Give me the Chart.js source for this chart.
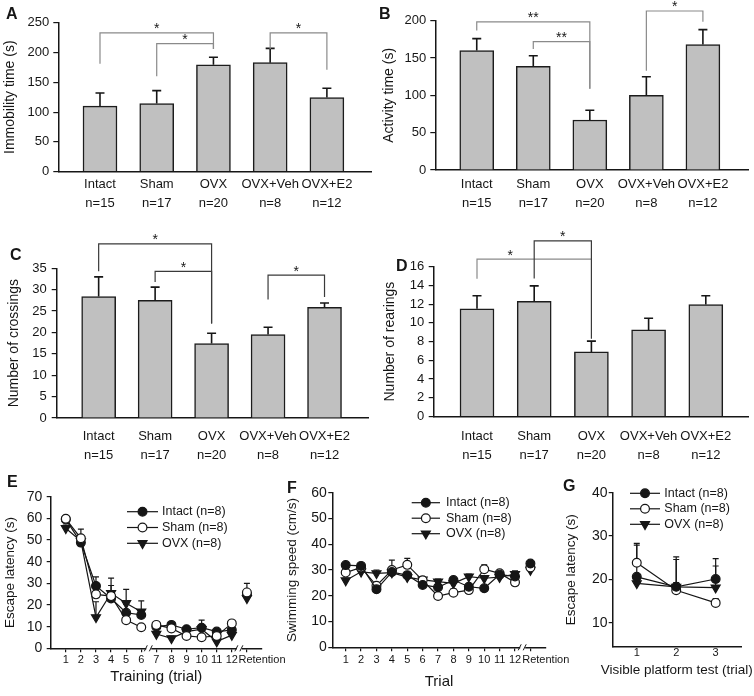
<!DOCTYPE html>
<html>
<head>
<meta charset="utf-8">
<script src="https://cdn.jsdelivr.net/npm/chart.js@4.4.1/dist/chart.umd.min.js"></script>
<style>
html,body{margin:0;padding:0;background:#fff;}
#wrap{position:relative;width:754px;height:696px;overflow:hidden;background:#fff;}
canvas{position:absolute;}
</style>
</head>
<body>
<div id="wrap">
<canvas id="cA"></canvas><canvas id="cB"></canvas><canvas id="cC"></canvas><canvas id="cD"></canvas>
<canvas id="cE"></canvas><canvas id="cF"></canvas><canvas id="cG"></canvas>
</div>
<script>
// ================= DATA =================
const groups = ['Intact', 'Sham', 'OVX', 'OVX+Veh', 'OVX+E2'];
const groupN = ['n=15', 'n=17', 'n=20', 'n=8', 'n=12'];

const immobilityTime = [110, 114.5, 179.5, 183, 124.5];
const immobilitySEM  = [22, 21.5, 12.5, 24, 15.5];
const activityTime   = [160, 139, 67, 100, 168];
const activitySEM    = [16, 14, 13, 25, 20];
const crossings      = [28.4, 27.5, 17.4, 19.5, 25.9];
const crossingsSEM   = [4.6, 3.1, 2.4, 1.7, 1.0];
const rearings       = [11.5, 12.3, 6.9, 9.25, 11.95];
const rearingsSEM    = [1.4, 1.65, 1.15, 1.25, 0.95];

// significance brackets: [group from, group to, bracket level, left leg end, right leg end, mark, (mark position)]
const sigA = [[1, 3, 233, 181, 206, '*'], [2, 3, 215, 160, 206, '*'], [4, 5, 233, 206, 171, '*']];
const sigB = [[1, 3, 198.5, 187, 109, '**'], [2, 3, 172, 162, 109, '**'], [4, 5, 213, 133, 198.5, '*']];
const sigC = [[1, 3, 40.7, 34.3, 22.1, '*'], [2, 3, 34.3, 31.8, 22.1, '*'], [4, 5, 33.4, 27.7, 28.3, '*']];
const sigD = [[1, 3, 16.8, 14.7, 16.8, '*', 1.58], [2, 3, 18.75, 14.75, 8.3, '*']];

const seriesNames = ['Intact (n=8)', 'Sham (n=8)', 'OVX (n=8)'];
const trialTicks = ['1','2','3','4','5','6','7','8','9','10','11','12'];
const retentionLabel = 'Retention';
const visibleTicks = ['1','2','3'];

// E: escape latency (s), trials 1-12 + retention
const latencyIntact    = [59.5, 48.8, 28.8, 23.0, 16.4, 15.4, 10.0, 10.8, 8.8, 9.5, 7.7, 8.4];
const latencySham      = [59.8, 50.8, 24.9, 24.1, 13.0, 9.7, 10.8, 9.2, 5.7, 5.1, 5.7, 11.5];
const latencyOVX       = [55.4, 49.5, 14.3, 25.4, 20.8, 16.9, 6.6, 4.6, 7.7, 8.8, 3.1, 6.1];
const latencyIntactSEM = [1, 2, 4.2, 6, 4, 2, 1, 1, 1, 3.5, 1, 1];
const latencyShamSEM   = [1, 4.2, 2, 1, 1, 1, 1, 1, 1, 1, 1, 1];
const latencyOVXSEM    = [1.5, 2, 7.2, 7, 6.4, 5, 1, 1, 1, 1, 1, 1.5];
const retentionLatency    = [24.9, 25.8, 23.1];
const retentionLatencySEM = [2, 4.2, 1.5];

// F: swimming speed (cm/s)
const speedIntact    = [31.9, 31.6, 22.5, 29.2, 28.0, 24.2, 23.3, 26.1, 23.5, 22.9, 28.2, 27.5];
const speedSham      = [29.0, 31.0, 23.9, 30.0, 32.0, 26.0, 19.9, 21.2, 22.2, 30.3, 28.7, 25.2];
const speedOVX       = [25.9, 29.3, 28.7, 29.0, 27.2, 26.2, 25.5, 24.8, 27.4, 26.8, 27.2, 28.4];
const speedIntactSEM = [1, 1, 1, 1, 1, 1, 1, 1, 1, 1, 1, 1];
const speedShamSEM   = [1.5, 1, 1, 3.8, 2.5, 1, 1, 1.5, 1, 1.7, 1, 1];
const speedOVXSEM    = [1, 1, 1.3, 1, 1, 1, 1, 1, 1, 1, 1, 1.3];
const retentionSpeed    = [32.5, 31, 30];
const retentionSpeedSEM = [1, 1, 1];

// G: visible platform test, escape latency (s)
const visibleIntact    = [20.6, 18.3, 20.1];
const visibleSham      = [23.85, 17.5, 14.6];
const visibleOVX       = [19.1, 18.3, 18.1];
const visibleIntactSEM = [7.3, 6.9, 4.7];
const visibleShamSEM   = [4.45, 7.1, 1];
const visibleOVXSEM    = [1, 1, 5];

// ================= HELPERS =================
const FONT = "'Liberation Sans', Arial, Helvetica, sans-serif";
const INK = '#161616';
Chart.defaults.font.family = FONT;
Chart.defaults.color = INK;

function place(id, r) {
  const c = document.getElementById(id);
  c.width = r[2]; c.height = r[3];
  c.style.left = r[0] + 'px'; c.style.top = r[1] + 'px';
  c.style.width = r[2] + 'px'; c.style.height = r[3] + 'px';
  return c;
}
function frame(r, a) {
  return { yW: a.left - r[0], xH: r[1] + r[3] - a.bottom, top: a.top - r[1], right: r[0] + r[2] - a.right };
}
function drawMarker(ctx, style, x, y, r, fill, rot) {
  ctx.save();
  ctx.beginPath();
  if (style === 'circle') {
    ctx.arc(x, y, r, 0, Math.PI * 2);
  } else {
    let a = rot * Math.PI / 180;
    for (let k = 0; k < 3; k++) {
      const px = x + Math.sin(a) * r, py = y - Math.cos(a) * r;
      if (k) ctx.lineTo(px, py); else ctx.moveTo(px, py);
      a += 2 * Math.PI / 3;
    }
    ctx.closePath();
  }
  ctx.fillStyle = fill; ctx.fill();
  ctx.lineWidth = 1.2; ctx.strokeStyle = INK; ctx.stroke();
  ctx.restore();
}
function drawErrors(chart, cap, width) {
  const ctx = chart.ctx, ys = chart.scales.y;
  chart.data.datasets.forEach((ds, di) => {
    if (!ds.errors) return;
    const meta = chart.getDatasetMeta(di);
    meta.data.forEach((el, i) => {
      const e = ds.errors[i], d = ds.data[i];
      if (e == null || d == null || d.y == null) return;
      const x = el.x, y0 = el.y, y1 = ys.getPixelForValue(d.y + e);
      ctx.save();
      ctx.strokeStyle = INK; ctx.lineWidth = width;
      ctx.beginPath();
      ctx.moveTo(x, y0); ctx.lineTo(x, y1);
      ctx.moveTo(x - cap / 2, y1); ctx.lineTo(x + cap / 2, y1);
      ctx.stroke();
      ctx.restore();
    });
  });
}
function errorBarsPlugin(phase, cap, width) {
  return {
    id: 'errorBars',
    beforeDatasetsDraw(chart) { if (phase === 'before') drawErrors(chart, cap, width); },
    afterDatasetsDraw(chart) { if (phase === 'after') drawErrors(chart, cap, width); }
  };
}
function bracketsPlugin(items, colors) {
  return {
    id: 'brackets',
    afterDraw(chart) {
      const xs = chart.scales.x, ys = chart.scales.y, ctx = chart.ctx;
      items.forEach((b, k) => {
        const [g1, g2, top, e1, e2, mark, mx] = b;
        const x1 = xs.getPixelForValue(g1), x2 = xs.getPixelForValue(g2);
        const yt = ys.getPixelForValue(top);
        ctx.save();
        ctx.strokeStyle = colors[k]; ctx.lineWidth = 1.2;
        ctx.beginPath();
        ctx.moveTo(x1, ys.getPixelForValue(e1)); ctx.lineTo(x1, yt);
        ctx.lineTo(x2, yt); ctx.lineTo(x2, ys.getPixelForValue(e2));
        ctx.stroke();
        ctx.fillStyle = INK; ctx.font = '14px ' + FONT;
        ctx.textAlign = 'center'; ctx.textBaseline = 'alphabetic';
        ctx.fillText(mark, xs.getPixelForValue(mx != null ? mx : (g1 + g2) / 2), yt + 0.5);
        ctx.restore();
      });
    }
  };
}
function textPlugin(items) {
  return {
    id: 'texts',
    afterDraw(chart) {
      const ctx = chart.ctx;
      items.forEach(t => {
        ctx.save();
        ctx.font = t.font; ctx.fillStyle = INK;
        ctx.textAlign = t.align || 'left'; ctx.textBaseline = t.baseline || 'alphabetic';
        ctx.fillText(t.text, t.x, t.y);
        ctx.restore();
      });
    }
  };
}
function breakPlugin(values) {
  return {
    id: 'axisBreaks',
    afterDraw(chart) {
      const xs = chart.scales.x, ctx = chart.ctx, y = chart.chartArea.bottom;
      values.forEach(v => {
        const x = xs.getPixelForValue(v);
        ctx.save();
        ctx.fillStyle = '#fff'; ctx.fillRect(x - 2.5, y - 2, 5, 4);
        ctx.strokeStyle = INK; ctx.lineWidth = 1;
        ctx.beginPath();
        ctx.moveTo(x - 4.5, y + 3); ctx.lineTo(x - 1.5, y - 3);
        ctx.moveTo(x + 0.5, y + 3); ctx.lineTo(x + 3.5, y - 3);
        ctx.stroke();
        ctx.restore();
      });
    }
  };
}
function legendPlugin(cfg) {
  return {
    id: 'lineLegend',
    afterDraw(chart) {
      const ctx = chart.ctx;
      chart.data.datasets.forEach((ds, i) => {
        const y = cfg.y0 + i * cfg.dy;
        ctx.save();
        ctx.strokeStyle = INK; ctx.lineWidth = 1.2;
        ctx.beginPath(); ctx.moveTo(cfg.x, y); ctx.lineTo(cfg.x + cfg.len, y); ctx.stroke();
        drawMarker(ctx, ds.pointStyle, cfg.x + cfg.len / 2, y, ds.pointRadius, ds.pointBackgroundColor, ds.pointRotation || 0);
        ctx.font = '12.5px ' + FONT; ctx.fillStyle = INK;
        ctx.textAlign = 'left'; ctx.textBaseline = 'middle';
        ctx.fillText(ds.label, cfg.tx, y);
        ctx.restore();
      });
    }
  };
}

// ================= BAR PANELS =================
function barPanel(cfg) {
  const f = frame(cfg.rect, cfg.area);
  const canvas = place(cfg.id, cfg.rect);
  return new Chart(canvas, {
    type: 'bar',
    data: {
      datasets: [{
        data: cfg.values.map((v, i) => ({ x: i + 1, y: v })),
        errors: cfg.sem,
        backgroundColor: '#c0c0c0', borderColor: '#1c1c1c', borderWidth: 1.5,
        barThickness: 34
      }]
    },
    options: {
      responsive: false, animation: false, events: [],
      layout: { autoPadding: false, padding: { left: 0, top: f.top, right: f.right, bottom: 0 } },
      plugins: { legend: { display: false }, tooltip: { enabled: false } },
      scales: {
        x: {
          type: 'linear', offset: false, min: cfg.xMin, max: cfg.xMax,
          afterBuildTicks: s => { s.ticks = groups.map((g, i) => ({ value: i + 1 })); },
          afterFit: s => { s.height = f.xH; },
          ticks: {
            autoSkip: false, maxRotation: 0, minRotation: 0, padding: cfg.labelPad, color: INK,
            font: { size: 13, lineHeight: '19px' },
            callback: v => [groups[v - 1], groupN[v - 1]]
          },
          grid: { display: true, drawOnChartArea: false, drawTicks: false },
          border: { color: INK, width: 1.5 }
        },
        y: {
          min: cfg.yMin, max: cfg.yMax,
          ticks: { stepSize: cfg.yStep, color: INK, font: { size: 13 }, padding: cfg.tickPad },
          afterFit: s => { s.width = f.yW; },
          grid: { drawOnChartArea: false, tickLength: 5, color: INK, lineWidth: 1.2 },
          border: { color: INK, width: 1.5 },
          title: { display: true, text: cfg.yTitle, color: INK, font: { size: 14 }, padding: { top: cfg.titlePad, bottom: 0 } }
        }
      }
    },
    plugins: [errorBarsPlugin('after', 9, 1.6), bracketsPlugin(cfg.sig, cfg.sigColors), textPlugin(cfg.texts)]
  });
}

const GRAY = '#8a8a8a', DARK = '#3a3a3a';
const LETTER = 'bold 16px ' + FONT;

barPanel({ id: 'cA', rect: [0, 0, 377, 215], area: { left: 58.3, top: 22.7, right: 371.7, bottom: 171.7 },
  values: immobilityTime, sem: immobilitySEM, xMin: 0.265, xMax: 5.79, yMin: 0, yMax: 250, yStep: 50,
  labelPad: 3, tickPad: 4, titlePad: 1.6, yTitle: 'Immobility time (s)',
  sig: sigA, sigColors: [GRAY, GRAY, GRAY], texts: [{ text: 'A', x: 6, y: 18.5, font: LETTER }] });

barPanel({ id: 'cB', rect: [377, 0, 377, 215], area: { left: 435.3, top: 20.7, right: 748.7, bottom: 170 },
  values: activityTime, sem: activitySEM, xMin: 0.267, xMax: 5.81, yMin: 0, yMax: 200, yStep: 50,
  labelPad: 4.5, tickPad: 4, titlePad: 3.6, yTitle: 'Activity time (s)',
  sig: sigB, sigColors: [GRAY, GRAY, GRAY], texts: [{ text: 'B', x: 2, y: 18.5, font: LETTER }] });

barPanel({ id: 'cC', rect: [0, 225, 377, 235], area: { left: 56.7, top: 268.3, right: 368, bottom: 418 },
  values: crossings, sem: crossingsSEM, xMin: 0.257, xMax: 5.77, yMin: 0, yMax: 35, yStep: 5,
  labelPad: 8.5, tickPad: 5, titlePad: 5.6, yTitle: 'Number of crossings',
  sig: sigC, sigColors: [DARK, DARK, DARK], texts: [{ text: 'C', x: 10, y: 35, font: LETTER }] });

barPanel({ id: 'cD', rect: [377, 225, 377, 235], area: { left: 433.7, top: 266.7, right: 748.7, bottom: 416.5 },
  values: rearings, sem: rearingsSEM, xMin: 0.243, xMax: 5.75, yMin: 0, yMax: 16, yStep: 2,
  labelPad: 10, tickPad: 4.4, titlePad: 4.6, yTitle: 'Number of rearings',
  sig: sigD, sigColors: [GRAY, DARK], texts: [{ text: 'D', x: 19, y: 46, font: LETTER }] });

// ================= LINE PANELS =================
function trialSeries(values, sem, retention, retentionSem, gapAfter) {
  const points = [], errors = [];
  values.forEach((v, i) => {
    points.push({ x: i + 1, y: v }); errors.push(sem[i]);
    if (gapAfter.includes(i + 1)) { points.push({ x: i + 1.5, y: null }); errors.push(null); }
  });
  if (retention != null) {
    points.push({ x: values.length + 0.5, y: null }); errors.push(null);
    points.push({ x: values.length + 1, y: retention }); errors.push(retentionSem);
  }
  return { points, errors };
}
const markerStyles = [
  { pointStyle: 'circle', pointRadius: 4.4, pointBackgroundColor: INK, pointRotation: 0 },
  { pointStyle: 'circle', pointRadius: 4.4, pointBackgroundColor: '#ffffff', pointRotation: 0 },
  { pointStyle: 'triangle', pointRadius: 5.2, pointBackgroundColor: INK, pointRotation: 180 }
];
function linePanel(cfg) {
  const f = frame(cfg.rect, cfg.area);
  const canvas = place(cfg.id, cfg.rect);
  const datasets = cfg.series.map((s, i) => Object.assign({
    label: seriesNames[i], data: s.points, errors: s.errors,
    borderColor: INK, borderWidth: 1.2, pointBorderColor: INK, pointBorderWidth: 1.2,
    fill: false, tension: 0, spanGaps: false, order: cfg.order[i]
  }, markerStyles[i]));
  const x = Object.assign({
    type: 'linear', offset: false,
    afterFit: s => { s.height = f.xH; },
    border: { color: INK, width: 1.5 }
  }, cfg.x);
  return new Chart(canvas, {
    type: 'line',
    data: { datasets },
    options: {
      responsive: false, animation: false, events: [],
      layout: { autoPadding: false, padding: { left: 0, top: f.top, right: f.right, bottom: 0 } },
      plugins: { legend: { display: false }, tooltip: { enabled: false } },
      scales: {
        x,
        y: Object.assign({
          afterFit: s => { s.width = f.yW; },
          grid: { drawOnChartArea: false, tickLength: 4, color: INK, lineWidth: 1.2 },
          border: { color: INK, width: 1.5 },
          title: { display: true, text: cfg.yTitle, color: INK, font: { size: 13.5 }, padding: { top: cfg.titlePad, bottom: 0 } }
        }, cfg.y)
      }
    },
    plugins: [errorBarsPlugin('before', 6, 1.2), breakPlugin(cfg.breaks), legendPlugin(cfg.legend), textPlugin(cfg.texts)]
  });
}

const tickMarkColor = c => (c.tick && c.tick.value === 14) ? 'rgba(0,0,0,0)' : INK;

linePanel({ id: 'cE', rect: [0, 465, 292, 231], area: { left: 50.7, top: 496.7, right: 262, bottom: 648.3 },
  series: [
    trialSeries(latencyIntact, latencyIntactSEM, retentionLatency[0], retentionLatencySEM[0], [6]),
    trialSeries(latencySham, latencyShamSEM, retentionLatency[1], retentionLatencySEM[1], [6]),
    trialSeries(latencyOVX, latencyOVXSEM, retentionLatency[2], retentionLatencySEM[2], [6])
  ],
  order: [1, 0, 2], breaks: [6.5, 12.5], yTitle: 'Escape latency (s)', titlePad: 1.9,
  x: {
    min: 0, max: 14,
    afterBuildTicks: s => { s.ticks = trialTicks.map((t, i) => ({ value: i + 1 })).concat([{ value: 13 }, { value: 14 }]); },
    ticks: { autoSkip: false, maxRotation: 0, minRotation: 0, padding: 0.7, color: INK, font: { size: 11 },
      callback: v => v <= 12 ? trialTicks[v - 1] : (v === 14 ? retentionLabel : '') },
    grid: { drawOnChartArea: false, tickLength: 4, color: INK, lineWidth: 1.2, tickColor: tickMarkColor },
    title: { display: true, text: 'Training (trial)', color: INK, font: { size: 15 }, padding: { top: 0, bottom: 10.5 } }
  },
  y: { min: 0, max: 70, ticks: { stepSize: 10, color: INK, font: { size: 14 }, padding: 4.5 } },
  legend: { x: 127, len: 31, tx: 162, y0: 46.7, dy: 15.8 },
  texts: [{ text: 'E', x: 7, y: 22, font: LETTER }] });

linePanel({ id: 'cF', rect: [270, 465, 305, 231], area: { left: 332.3, top: 492.7, right: 545.8, bottom: 647.3 },
  series: [
    trialSeries(speedIntact, speedIntactSEM, retentionSpeed[0], retentionSpeedSEM[0], []),
    trialSeries(speedSham, speedShamSEM, retentionSpeed[1], retentionSpeedSEM[1], []),
    trialSeries(speedOVX, speedOVXSEM, retentionSpeed[2], retentionSpeedSEM[2], [])
  ],
  order: [0, 1, 2], breaks: [12.5], yTitle: 'Swimming speed (cm/s)', titlePad: 14.2,
  x: {
    min: 0.13, max: 14,
    afterBuildTicks: s => { s.ticks = trialTicks.map((t, i) => ({ value: i + 1 })).concat([{ value: 13 }, { value: 14 }]); },
    ticks: { autoSkip: false, maxRotation: 0, minRotation: 0, padding: 2.2, color: INK, font: { size: 11 },
      callback: v => v <= 12 ? trialTicks[v - 1] : (v === 14 ? retentionLabel : '') },
    grid: { drawOnChartArea: false, tickLength: 4, color: INK, lineWidth: 1.2, tickColor: tickMarkColor },
    title: { display: true, text: 'Trial', color: INK, font: { size: 15 }, padding: { top: 0, bottom: 4.8 } }
  },
  y: { min: 0, max: 60, ticks: { stepSize: 10, color: INK, font: { size: 14 }, padding: 1.4 } },
  legend: { x: 141.7, len: 28.3, tx: 176, y0: 37.7, dy: 15.5 },
  texts: [{ text: 'F', x: 17, y: 28, font: LETTER }] });

linePanel({ id: 'cG', rect: [548, 465, 206, 231], area: { left: 612.7, top: 492.7, right: 741.7, bottom: 646.7 },
  series: [
    trialSeries(visibleIntact, visibleIntactSEM, null, null, []),
    trialSeries(visibleSham, visibleShamSEM, null, null, []),
    trialSeries(visibleOVX, visibleOVXSEM, null, null, [])
  ],
  order: [0, 1, 2], breaks: [], yTitle: 'Escape latency (s)', titlePad: 15.6,
  x: {
    min: 0.39, max: 3.66,
    afterBuildTicks: s => { s.ticks = visibleTicks.map((t, i) => ({ value: i + 1 })); },
    ticks: { autoSkip: false, maxRotation: 0, minRotation: 0, padding: 0, color: INK, font: { size: 11 },
      callback: v => visibleTicks[v - 1] },
    grid: { drawOnChartArea: false, drawTicks: false }
  },
  y: { min: 4.5, max: 40,
    afterBuildTicks: s => { s.ticks = [10, 20, 30, 40].map(v => ({ value: v })); },
    ticks: { color: INK, font: { size: 14 }, padding: 1.2 } },
  legend: { x: 82, len: 30, tx: 116.3, y0: 28.3, dy: 15.5 },
  texts: [{ text: 'G', x: 15, y: 26, font: LETTER },
          { text: 'Visible platform test (trial)', x: 128.7, y: 205, font: '13.5px ' + FONT, align: 'center', baseline: 'middle' }] });
</script>
</body>
</html>
